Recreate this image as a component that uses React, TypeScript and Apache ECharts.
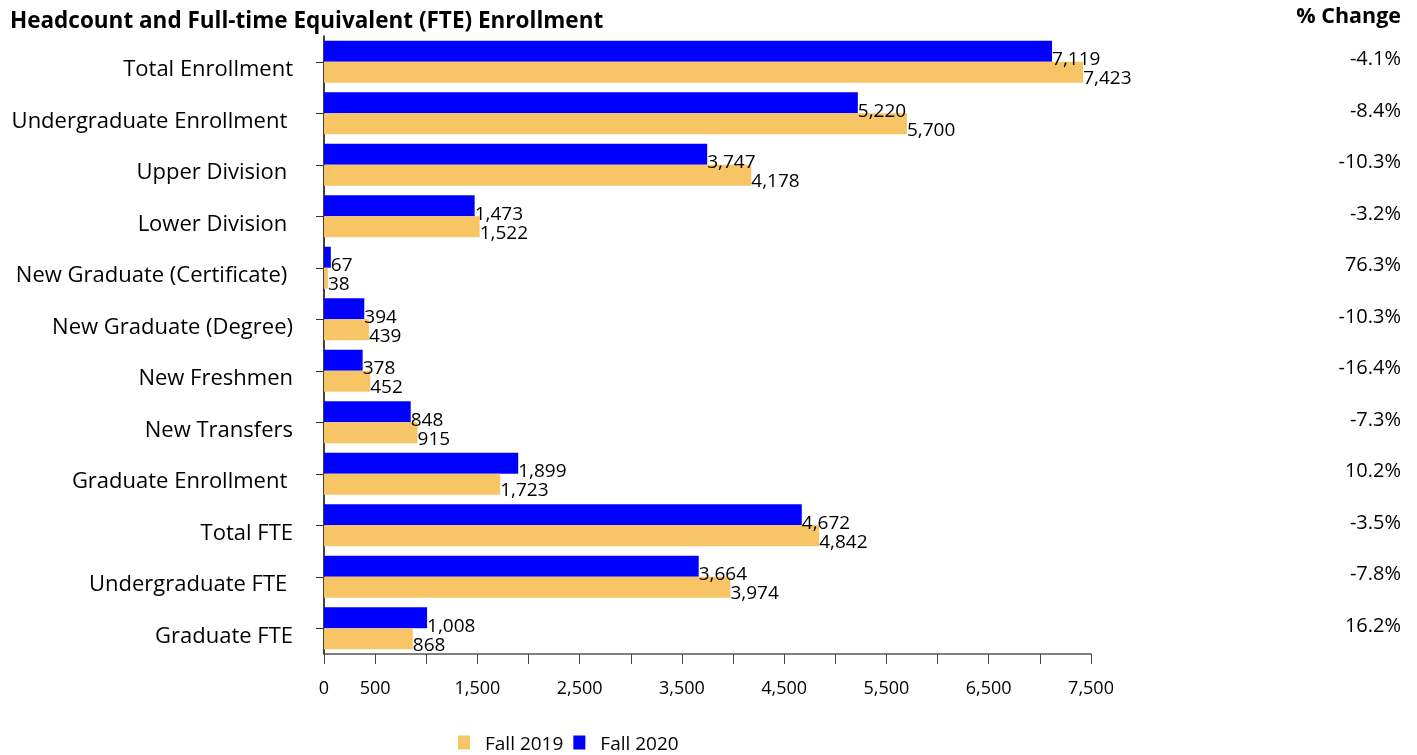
import React, { useEffect, useRef } from "react";
import * as echarts from "echarts";

const categories = [
  "Total Enrollment",
  "Undergraduate Enrollment ",
  "Upper Division ",
  "Lower Division ",
  "New Graduate (Certificate) ",
  "New Graduate (Degree)",
  "New Freshmen",
  "New Transfers",
  "Graduate Enrollment ",
  "Total FTE",
  "Undergraduate FTE ",
  "Graduate FTE",
];
const fall2019 = [7423, 5700, 4178, 1522, 38, 439, 452, 915, 1723, 4842, 3974, 868];
const fall2020 = [7119, 5220, 3747, 1473, 67, 394, 378, 848, 1899, 4672, 3664, 1008];
const pctChange = ["-4.1%", "-8.4%", "-10.3%", "-3.2%", "76.3%", "-10.3%", "-16.4%", "-7.3%", "10.2%", "-3.5%", "-7.8%", "16.2%"];

const FONT = "Open Sans";
const BLUE = "#0000FF";
const ORANGE = "#F8C566";

export default function App() {
  const ref = useRef<HTMLDivElement>(null);
  useEffect(() => {
    if (!ref.current) return;
    const chart = echarts.init(ref.current, null, { renderer: "svg" });
    const fmt = (v: number) => v.toLocaleString("en-US");
    chart.setOption({
      animation: false,
      textStyle: { fontFamily: FONT },
      title: [
        {
          text: "Headcount and Full-time Equivalent (FTE) Enrollment",
          left: 10,
          top: 8,
          padding: 0,
          textStyle: { fontFamily: FONT, fontSize: 22.5, fontWeight: "bold", color: "#000" },
        },
        {
          text: "% Change",
          right: 16,
          top: 3,
          padding: 0,
          textStyle: { fontFamily: FONT, fontSize: 21.5, fontWeight: "bold", color: "#000" },
        },
      ],
      legend: {
        data: ["Fall 2019", "Fall 2020"],
        left: 453,
        top: 728,
        itemWidth: 12,
        itemHeight: 14,
        itemGap: 10,
        icon: "rect",
        textStyle: { fontFamily: FONT, fontSize: 19, color: "#000", padding: [8, 0, 0, 10] },
      },
      grid: { left: 324, right: 326, top: 36, bottom: 101, containLabel: false },
      xAxis: {
        type: "value",
        min: 0,
        max: 7500,
        interval: 500,
        splitLine: { show: false },
        axisLine: { show: true, lineStyle: { color: "#555", width: 1.5 } },
        axisTick: { show: true, length: 10, lineStyle: { color: "#444" } },
        axisLabel: {
          margin: 24,
          fontFamily: FONT,
          fontSize: 18,
          color: "#000",
          formatter: (v: number) => (v === 0 || v % 1000 === 500 ? fmt(v) : ""),
        },
      },
      yAxis: [
        {
          type: "category",
          data: categories,
          inverse: true,
          axisLine: { show: true, lineStyle: { color: "#000", width: 1.5 } },
          axisTick: { show: true, alignWithLabel: true, length: 8, lineStyle: { color: "#333" } },
          axisLabel: {
            margin: 31,
            fontFamily: FONT,
            fontSize: 22,
            color: "#000",
            verticalAlign: "top",
            lineHeight: 11,
          },
        },
        {
          type: "category",
          data: pctChange,
          inverse: true,
          position: "right",
          axisLine: { show: false },
          axisTick: { show: false },
          axisLabel: {
            margin: 310,
            align: "right",
            fontFamily: FONT,
            fontSize: 20,
            color: "#000",
            verticalAlign: "bottom",
            lineHeight: 8,
          },
        },
      ],
      series: [
        {
          name: "Fall 2020",
          type: "bar",
          data: fall2020,
          barWidth: 21,
          barGap: "0%",
          itemStyle: { color: BLUE },
          label: {
            show: true,
            position: "right",
            distance: 0,
            offset: [0, 7],
            fontFamily: FONT,
            fontSize: 19,
            lineHeight: 16,
            color: "#000",
            formatter: (p: any) => fmt(p.value),
          },
        },
        {
          name: "Fall 2019",
          type: "bar",
          data: fall2019,
          barWidth: 21,
          barGap: "0%",
          itemStyle: { color: ORANGE },
          label: {
            show: true,
            position: "right",
            distance: 0,
            offset: [0, 5],
            fontFamily: FONT,
            fontSize: 19,
            lineHeight: 16,
            color: "#000",
            formatter: (p: any) => fmt(p.value),
          },
        },
      ],
    });
    return () => chart.dispose();
  }, []);
  return <div ref={ref} style={{ position: "fixed", left: 0, top: 0, width: 1417, height: 755 }} />;
}
